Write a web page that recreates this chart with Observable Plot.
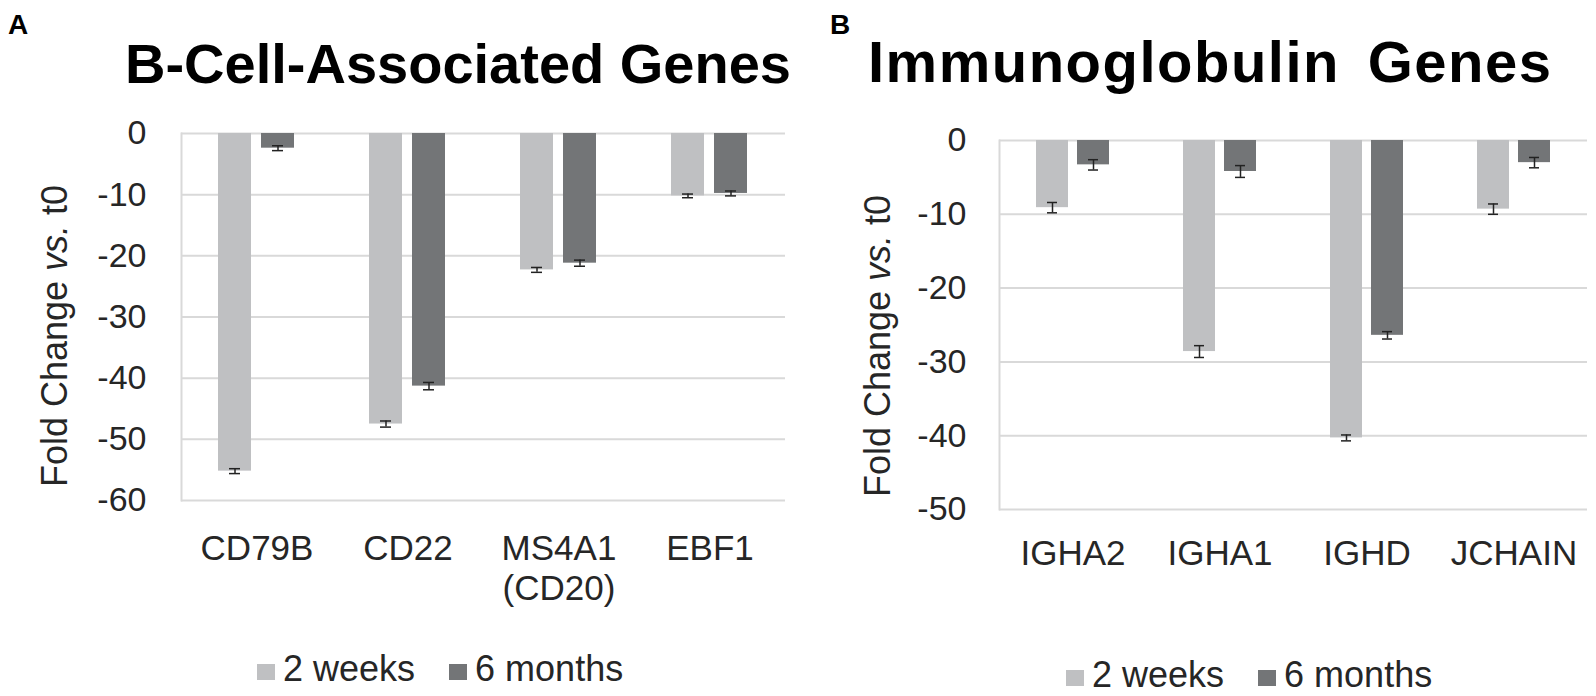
<!DOCTYPE html>
<html>
<head>
<meta charset="utf-8">
<script src="https://cdn.jsdelivr.net/npm/d3@7"></script>
<script src="https://cdn.jsdelivr.net/npm/@observablehq/plot@0.6"></script>
<style>
  html, body { margin: 0; padding: 0; background: #fff; }
  body { width: 1596px; height: 696px; position: relative; overflow: hidden; font-family: "Liberation Sans", Arial, sans-serif; color: #262626; }
  .abs { position: absolute; }
  .letter { font-weight: bold; font-size: 28px; line-height: 28px; color: #000; }
  .title { font-weight: bold; font-size: 56px; line-height: 56px; color: #000; white-space: nowrap; }
  .ylab { font-size: 36px; line-height: 36px; white-space: nowrap; transform: translate(-50%, -50%) rotate(-90deg); color: #262626; }
  .legend { font-size: 36px; line-height: 36px; white-space: nowrap; display: flex; align-items: center; color: #262626; }
  .sw { display: inline-block; width: 18px; height: 16px; margin-right: 8px; transform: translateY(3px); }
  .item { display: inline-flex; align-items: center; }
</style>
</head>
<body>
<div id="root"></div>
<script>
// ---- data ----
const series = ["2 weeks", "6 months"];
const seriesColors = ["#bfc0c2", "#737577"];

const genesA = ["CD79B", "CD22", "MS4A1 (CD20)", "EBF1"];
const weeks2A = [-55.2, -47.5, -22.3, -10.2];
const months6A = [-2.4, -41.3, -21.2, -9.8];
const err2wA = [0.4, 0.5, 0.4, 0.3];
const err6mA = [0.4, 0.6, 0.5, 0.4];
const ticksA = [0, -10, -20, -30, -40, -50, -60];

const genesB = ["IGHA2", "IGHA1", "IGHD", "JCHAIN"];
const weeks2B = [-9.1, -28.6, -40.3, -9.3];
const months6B = [-3.3, -4.2, -26.4, -3.0];
const err2wB = [0.7, 0.8, 0.4, 0.7];
const err6mB = [0.7, 0.8, 0.5, 0.7];
const ticksB = [0, -10, -20, -30, -40, -50];

function rows(genes, v2, v6, e2, e6) {
  const out = [];
  genes.forEach((g, i) => {
    out.push({gene: g, series: series[0], value: v2[i], err: e2[i]});
    out.push({gene: g, series: series[1], value: v6[i], err: e6[i]});
  });
  return out;
}

function panel(data, genes, ticks, opts) {
  return Plot.plot({
    width: opts.width,
    height: opts.height,
    marginLeft: opts.ml,
    marginRight: opts.mr,
    marginTop: opts.mt,
    marginBottom: opts.mb,
    style: {fontFamily: "Liberation Sans, Arial, sans-serif", color: "#262626", background: "transparent", overflow: "visible"},
    fx: {domain: genes, padding: 0, label: null},
    x: {domain: series, paddingInner: 0.23, paddingOuter: 0.87, axis: null},
    y: {domain: [ticks[ticks.length - 1], 0], label: null},
    color: {domain: series, range: seriesColors},
    marks: [
      Plot.ruleY(ticks, {stroke: "#d9d9d9", strokeWidth: 2}),
      Plot.frame({anchor: "left", facet: "super", stroke: "#d9d9d9", strokeWidth: 2}),
      Plot.axisY({ticks, tickSize: 0, tickPadding: opts.yPad, fontSize: 34, tickFormat: d => String(d), fill: "#262626", label: null}),
      Plot.axisFx({anchor: "bottom", tickSize: 0, tickPadding: opts.fxPad, fontSize: 35, lineHeight: 1.12, label: null, fill: "#262626",
        tickFormat: d => d.replace(" (", "\n(")}),
      Plot.barY(data, {fx: "gene", x: "series", y: "value", fill: "series"}),
      Plot.ruleX(data, {fx: "gene", x: "series", y1: d => d.value - d.err, y2: d => d.value + d.err, stroke: "#222", strokeWidth: 1.5}),
      Plot.tickY(data, {fx: "gene", x: "series", y: d => d.value - d.err, stroke: "#222", strokeWidth: 1.5, insetLeft: 11, insetRight: 11}),
      Plot.tickY(data, {fx: "gene", x: "series", y: d => d.value + d.err, stroke: "#222", strokeWidth: 1.5, insetLeft: 11, insetRight: 11})
    ]
  });
}

const root = document.getElementById("root");
function place(el, left, top) {
  el.classList.add("abs");
  el.style.left = left + "px";
  el.style.top = top + "px";
  root.appendChild(el);
  return el;
}
function div(cls, html) { const d = document.createElement("div"); d.className = cls; d.innerHTML = html; return d; }

// Panel A
place(div("letter", "A"), 8, 11);
place(div("title", "B-Cell-Associated Genes"), 125, 36);
const svgA = panel(rows(genesA, weeks2A, months6A, err2wA, err6mA), genesA, ticksA,
  {width: 800, height: 480, ml: 180, mr: 15, mt: 33, mb: 80, fxPad: 32, yPad: 35});
place(svgA, 0, 100);
place(div("ylab", "Fold Change <i>vs.</i> t0"), 55, 336);

// Panel B
place(div("letter", "B"), 830, 11);
const tB = place(div("title", "Immunoglobulin Genes"), 868, 34);
tB.style.fontSize = "58px";
tB.style.letterSpacing = "1.5px";
tB.style.wordSpacing = "10px";
const svgB = panel(rows(genesB, weeks2B, months6B, err2wB, err6mB), genesB, ticksB,
  {width: 796, height: 480, ml: 198, mr: 8, mt: 40, mb: 71, fxPad: 28, yPad: 33});
place(svgB, 800, 100);
place(div("ylab", "Fold Change <i>vs.</i> t0"), 878, 346);

function legend(gap) {
  const l = document.createElement("div");
  l.className = "legend";
  series.forEach((s, i) => {
    const it = document.createElement("span");
    it.className = "item";
    if (i > 0) it.style.marginLeft = gap + "px";
    it.innerHTML = `<span class="sw" style="background:${seriesColors[i]}"></span>${s}`;
    l.appendChild(it);
  });
  return l;
}
place(legend(34), 257, 651);
place(legend(34), 1066, 657);
</script>
</body>
</html>
